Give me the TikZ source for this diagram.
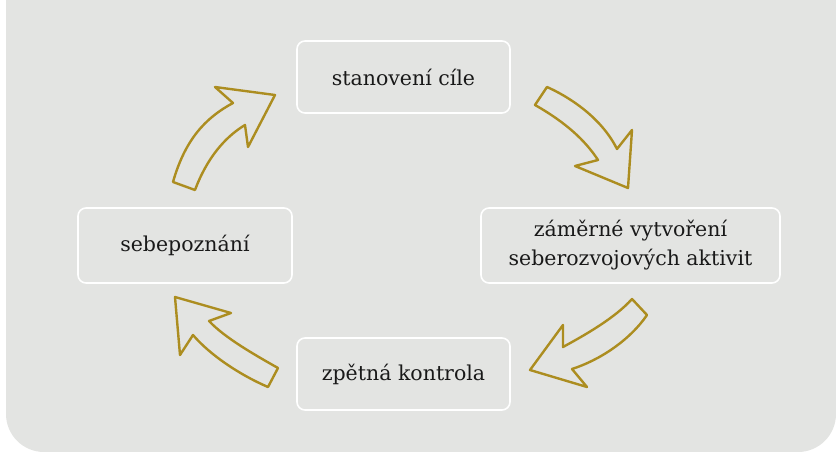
\documentclass[tikz,border=0pt]{standalone}
\usepackage{fontspec}
\setmainfont{DejaVu Serif}
\definecolor{bggrey}{RGB}{227,228,226}
\definecolor{olive}{RGB}{172,141,32}
\tikzset{
  stepbox/.style={draw=white, line width=1.6pt, fill=bggrey, rounded corners=8pt, align=center, font=\fontsize{20.5}{29}\selectfont, text=black!90},
  bigarrow/.style={draw=olive, line width=2.4pt, line join=round, fill=bggrey}
}
\begin{document}
\begin{tikzpicture}[x=1pt,y=-1pt]
\useasboundingbox (0,0) rectangle (836,452);
\fill[bggrey] (6,0) -- (836,0) -- (836,414) .. controls (836,435) and (819,452) .. (798,452)
  -- (44,452) .. controls (23,452) and (6,435) .. (6,414) -- cycle;
% boxes
\node[stepbox, minimum width=213pt, minimum height=72pt] (goal) at (403.5,77) {stanovení cíle};
\node[stepbox, minimum width=299pt, minimum height=75pt] (create) at (630.5,245.5) {záměrné vytvoření\\seberozvojových aktivit};
\node[stepbox, minimum width=214pt, minimum height=75pt] (self) at (185,245.5) {sebepoznání};
\node[stepbox, minimum width=213pt, minimum height=72pt] (check) at (403.5,374) {zpětná kontrola};
% arrow: self -> goal
\draw[bigarrow] (173,182) .. controls (185,140) and (205,118) .. (233,103)
  -- (215,87) -- (275,95) -- (248,147) -- (245,125)
  .. controls (225,137) and (207,158) .. (195,190) -- cycle;
% arrow: goal -> create
\draw[bigarrow] (547,87) .. controls (565,95) and (600,115) .. (617,149)
  -- (632,130) -- (628,188) -- (575,166) -- (598,160)
  .. controls (585,140) and (565,122) .. (535,105) -- cycle;
% arrow: create -> check
\draw[bigarrow] (632,299) .. controls (615,318) and (585,335) .. (563,347)
  -- (563,325) -- (530,370) -- (587,387) -- (572,369)
  .. controls (600,360) and (630,340) .. (647,315) -- cycle;
% arrow: check -> self
\draw[bigarrow] (278,368) .. controls (255,355) and (225,338) .. (209,321)
  -- (231,313) -- (175,297) -- (180,355) -- (193,335)
  .. controls (210,355) and (240,375) .. (268,387) -- cycle;
\end{tikzpicture}
\end{document}
